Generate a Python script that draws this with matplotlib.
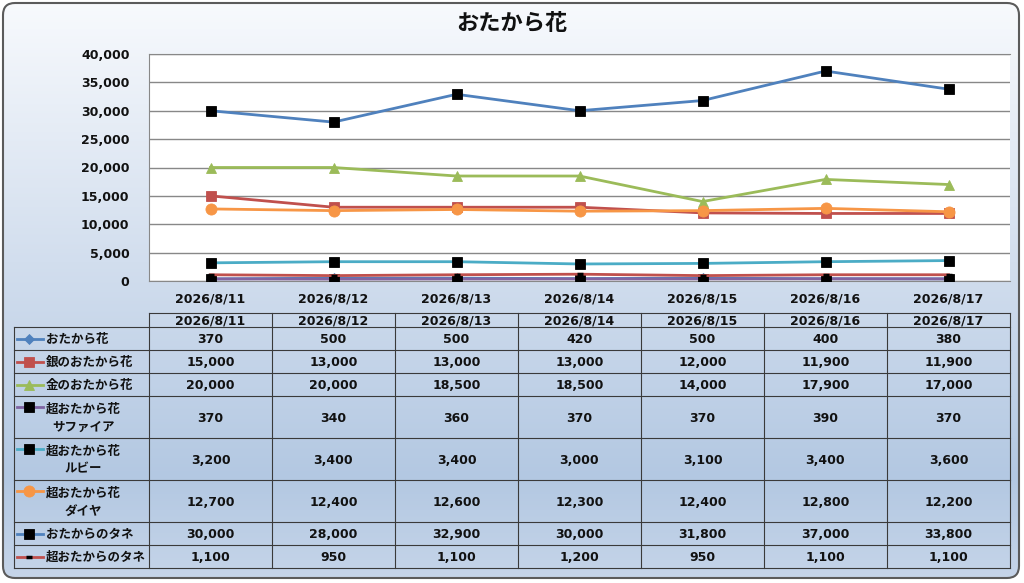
#!/usr/bin/env python3
"""Daily prices of the おたから花 items: line chart with a data table below."""

import matplotlib

matplotlib.use("Agg")
import matplotlib.pyplot as plt
import numpy as np
from matplotlib.colors import LinearSegmentedColormap
from matplotlib.patches import FancyBboxPatch
from matplotlib.ticker import FuncFormatter, MultipleLocator

plt.rcParams["font.family"] = ["DejaVu Sans", "Noto Sans CJK JP"]
plt.rcParams["font.weight"] = "bold"

dates = ["2026/8/11", "2026/8/12", "2026/8/13", "2026/8/14",
         "2026/8/15", "2026/8/16", "2026/8/17"]
series_names = ["おたから花", "銀のおたから花", "金のおたから花", "超おたから花\nサファイア",
                "超おたから花\nルビー", "超おたから花\nダイヤ", "おたからのタネ", "超おたからのタネ"]
otakara = [370, 500, 500, 420, 500, 400, 380]
gin = [15000, 13000, 13000, 13000, 12000, 11900, 11900]
kin = [20000, 20000, 18500, 18500, 14000, 17900, 17000]
sapphire = [370, 340, 360, 370, 370, 390, 370]
ruby = [3200, 3400, 3400, 3000, 3100, 3400, 3600]
diamond = [12700, 12400, 12600, 12300, 12400, 12800, 12200]
tane = [30000, 28000, 32900, 30000, 31800, 37000, 33800]
super_tane = [1100, 950, 1100, 1200, 950, 1100, 1100]
all_values = [otakara, gin, kin, sapphire, ruby, diamond, tane, super_tane]

# line colour, marker, marker face, marker size
styles = [
    ("#4F81BD", "D", "#4F81BD", 5),
    ("#C0504D", "s", "#C0504D", 7),
    ("#9BBB59", "^", "#9BBB59", 7),
    ("#8064A2", "s", "black", 7),
    ("#4BACC6", "s", "black", 7),
    ("#F79646", "o", "#F79646", 8),
    ("#4F81BD", "s", "black", 7),
    ("#C0504D", "_", "black", 5),
]

W, H = 1024, 583
fig = plt.figure(figsize=(W / 100, H / 100), dpi=100)
fig.patch.set_facecolor("white")

# background panel with vertical gradient and rounded border
bg = fig.add_axes([0, 0, 1, 1])
bg.set_xlim(0, W)
bg.set_ylim(H, 0)
bg.axis("off")
cmap = LinearSegmentedColormap.from_list(
    "panel", [(0.0, "#F8FAFD"), (0.45, "#D2DEEE"), (0.82, "#B3C8E2"), (1.0, "#C6D5E9")])
grad = np.linspace(0, 1, 256).reshape(-1, 1)
img = bg.imshow(grad, cmap=cmap, extent=(0, W, H, 0), aspect="auto", zorder=0)
panel = FancyBboxPatch((3, 3), W - 8, H - 8, boxstyle="round,pad=0,rounding_size=12",
                       facecolor="none", edgecolor="#5B5B5B", linewidth=1.5, zorder=2)
bg.add_patch(panel)
img.set_clip_path(panel)

bg.text(W / 2, 24, "おたから花", ha="center", va="center", fontsize=16,
        fontweight="bold", color="#111111")

# chart area
left_px, right_px, top_px, bottom_px = 149, 1010, 54, 281
ax = fig.add_axes([left_px / W, 1 - bottom_px / H, (right_px - left_px) / W,
                   (bottom_px - top_px) / H])
ax.set_facecolor("white")
x = np.arange(len(dates))
for values, (color, marker, face, size) in zip(all_values, styles):
    edge_width = 2.5 if marker == "_" else 0.6
    ax.plot(x, values, color=color, linewidth=2, marker=marker, markersize=size,
            markerfacecolor=face, markeredgecolor=face, markeredgewidth=edge_width,
            zorder=3)
ax.set_xlim(-0.5, len(dates) - 0.5)
ax.set_ylim(0, 40000)
ax.yaxis.set_major_locator(MultipleLocator(5000))
ax.yaxis.set_major_formatter(FuncFormatter(lambda v, _: f"{int(v):,}"))
ax.set_xticks(x, labels=dates)
ax.grid(axis="y", color="#888888", linewidth=1)
ax.set_axisbelow(True)
for side in ("left", "bottom", "top"):
    ax.spines[side].set_color("#888888")
ax.spines["right"].set_visible(False)
ax.tick_params(axis="both", length=0, labelsize=9, colors="#111111")
ax.tick_params(axis="y", pad=14)
ax.tick_params(axis="x", pad=8)

# data table drawn below the chart
line_kw = dict(color="#3A3A3A", linewidth=0.8, zorder=3)
table_left = 14
col_w = (right_px - left_px) / len(dates)
row_heights = [14, 23, 23, 23, 42, 42, 42, 23, 23]
row_edges = np.concatenate([[313], 313 + np.cumsum(row_heights)])

bg.plot([left_px, right_px], [row_edges[0]] * 2, **line_kw)
for y_edge in row_edges[1:]:
    bg.plot([table_left, right_px], [y_edge] * 2, **line_kw)
bg.plot([table_left, table_left], [row_edges[1], row_edges[-1]], **line_kw)
for j in range(len(dates) + 1):
    xv = left_px + j * col_w
    bg.plot([xv, xv], [row_edges[0], row_edges[-1]], **line_kw)

for j, date in enumerate(dates):
    bg.text(left_px + (j + 0.5) * col_w, (row_edges[0] + row_edges[1]) / 2 + 1, date,
            ha="center", va="center", fontsize=9, color="#111111", zorder=4)

for i, (name, values, (color, marker, face, size)) in enumerate(
        zip(series_names, all_values, styles)):
    top, bot = row_edges[i + 1], row_edges[i + 2]
    two_line = "\n" in name
    key_y = top + 11 if two_line else (top + bot) / 2
    edge_width = 2.5 if marker == "_" else 0.6
    bg.plot([17, 43], [key_y, key_y], color=color, linewidth=2, zorder=4)
    bg.plot([29], [key_y], marker=marker, markersize=size, markerfacecolor=face,
            markeredgecolor=face, markeredgewidth=edge_width, zorder=5)
    bg.text(46, (top + bot) / 2 + 1, name, ha="left", va="center", fontsize=9,
            multialignment="center", linespacing=1.55, color="#111111", zorder=4)
    for j, v in enumerate(values):
        bg.text(left_px + (j + 0.5) * col_w, (top + bot) / 2 + 1, f"{v:,}",
                ha="center", va="center", fontsize=9, color="#111111", zorder=4)

fig.savefig("out.png", dpi=100)
